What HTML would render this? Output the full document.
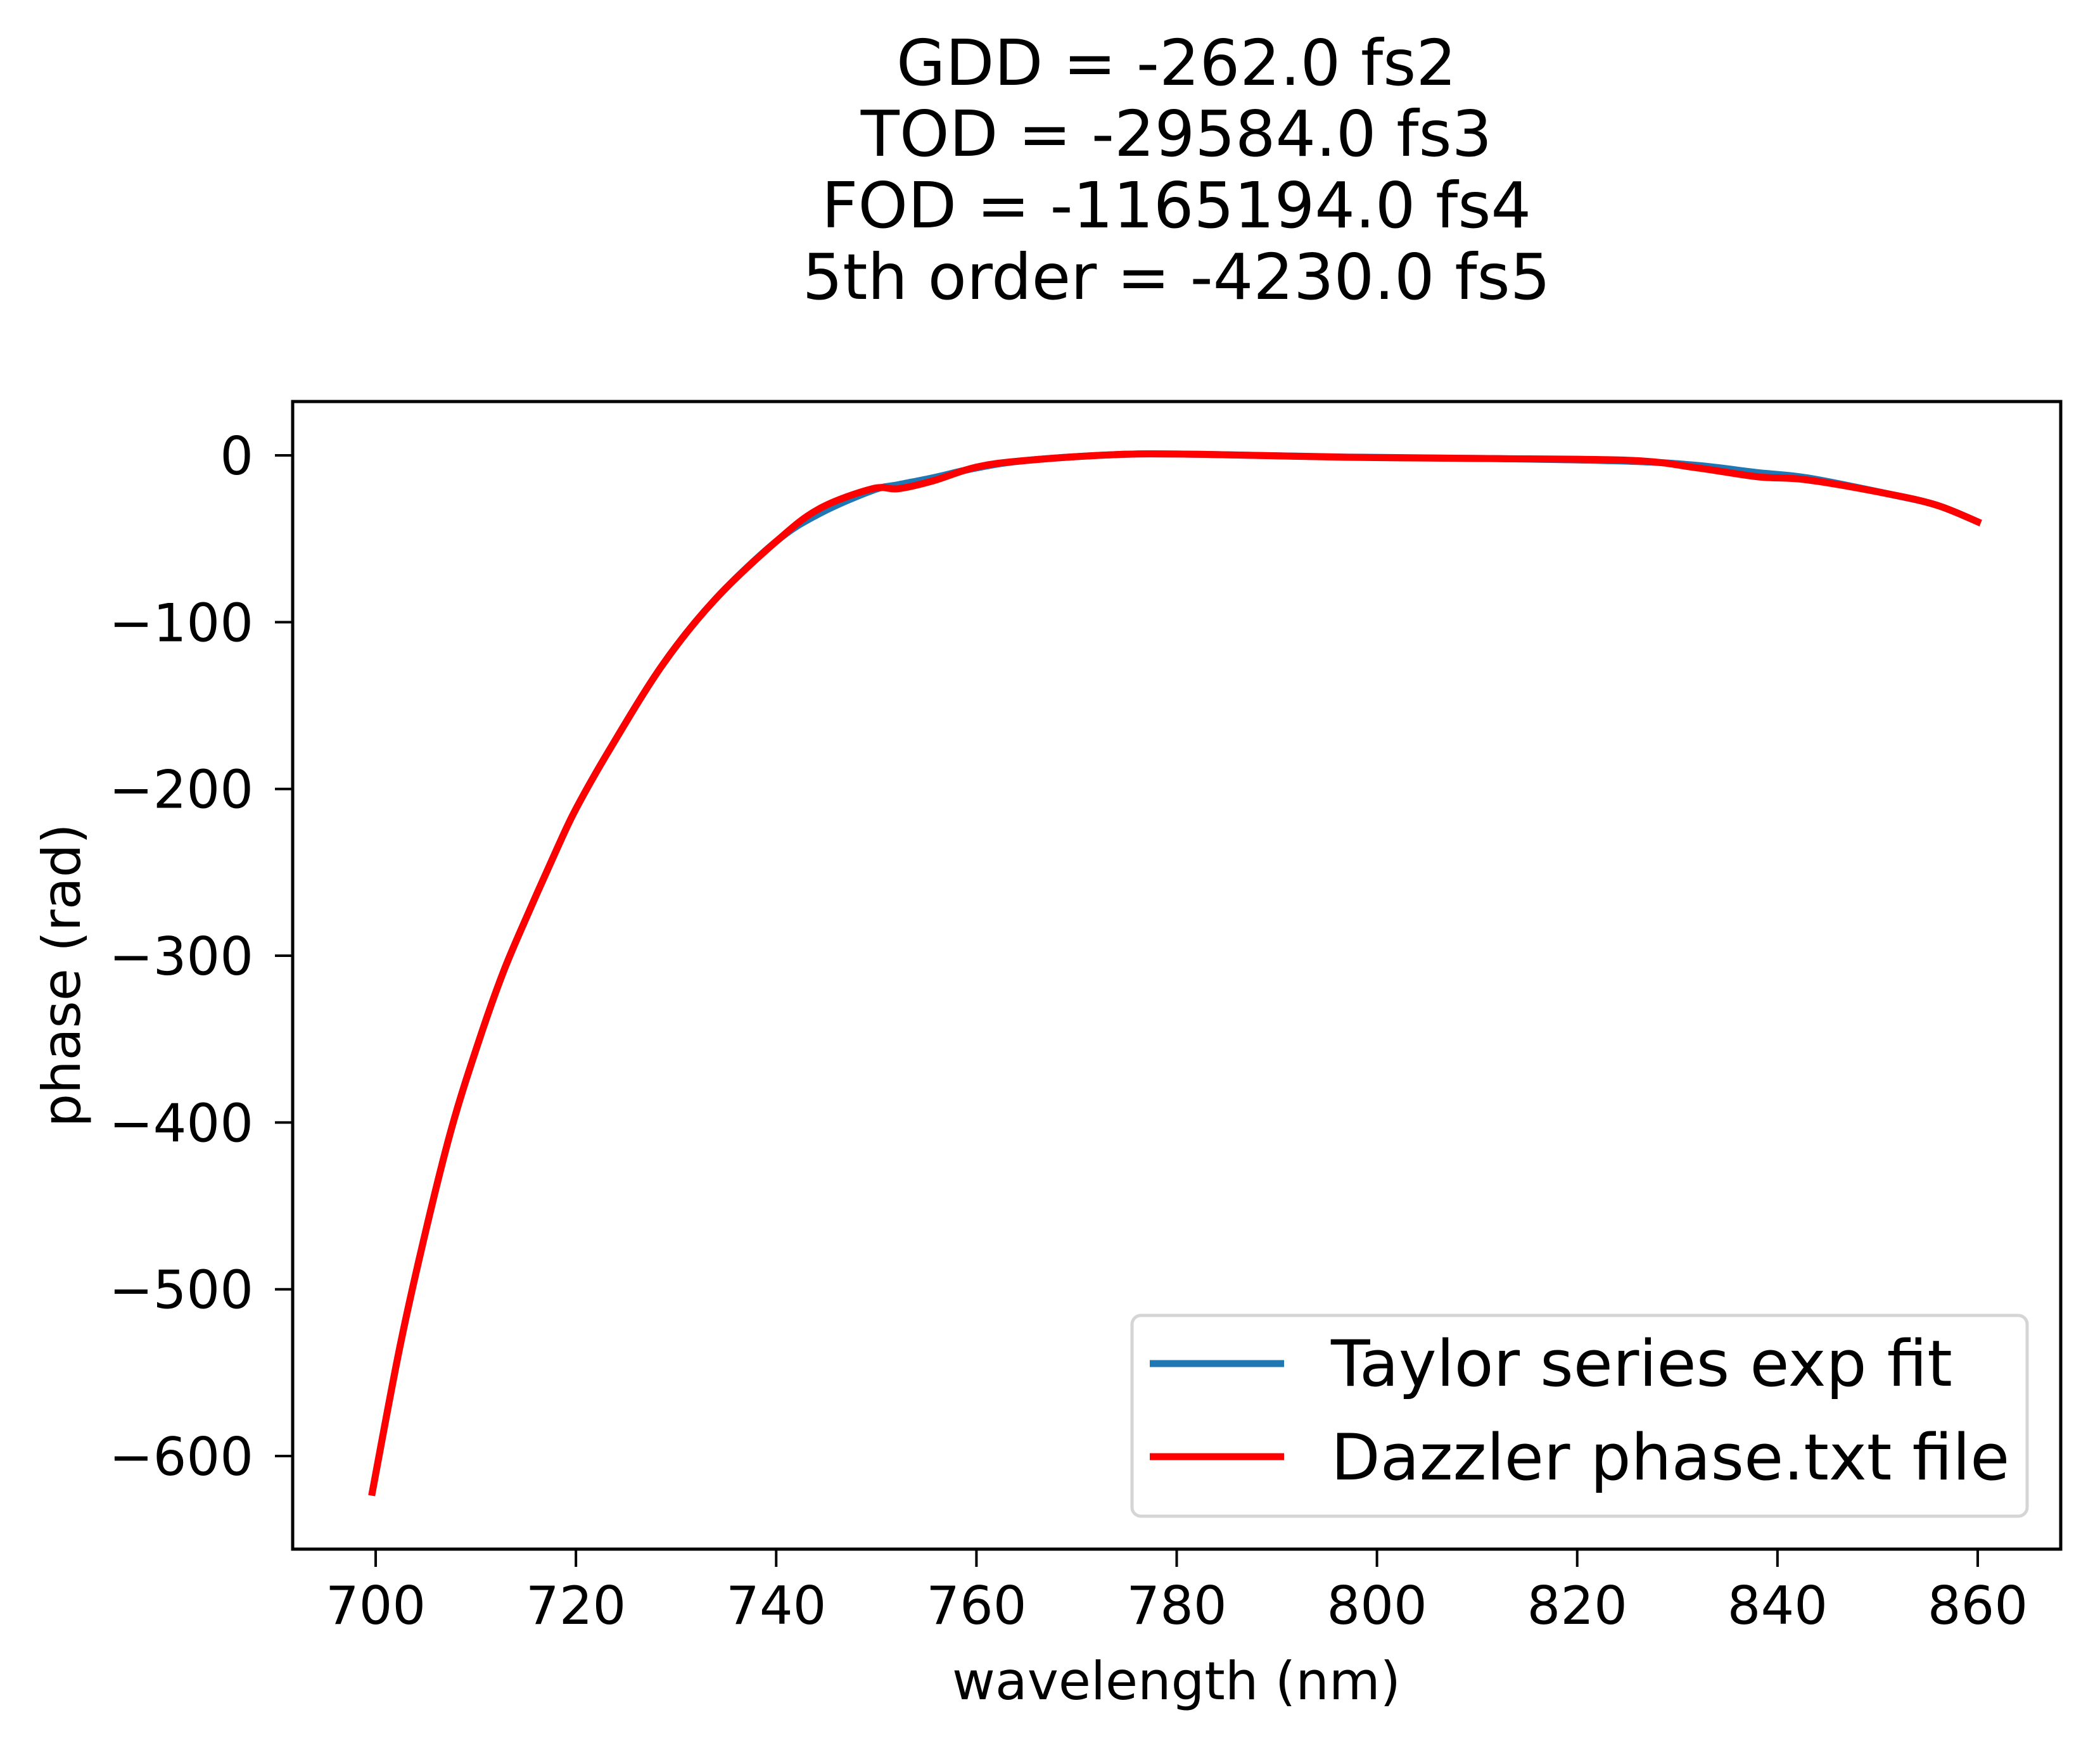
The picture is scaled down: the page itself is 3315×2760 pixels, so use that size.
<!DOCTYPE html>
<html><head><meta charset="utf-8"><style>
html,body{margin:0;padding:0;background:#fff}
svg{display:block;font-family:"DejaVu Sans","Liberation Sans",sans-serif}
</style></head><body>
<svg id="chart" width="3315" height="2760" viewBox="0 0 3315 2760" xmlns="http://www.w3.org/2000/svg">
<rect width="3315" height="2760" fill="#fff"/>
<g font-size="100" text-anchor="middle" fill="#000">
<text x="1857" y="134">GDD = -262.0 fs2</text>
<text x="1857" y="246">TOD = -29584.0 fs3</text>
<text x="1857" y="359">FOD = -1165194.0 fs4</text>
<text x="1857" y="472"> 5th order = -4230.0 fs5</text>
</g>
<g id="plot"></g>
<g id="axes"></g>
<text x="1857" y="2683" font-size="83" text-anchor="middle">wavelength (nm)</text>
<text transform="translate(126,1540) rotate(-90)" font-size="83" text-anchor="middle">phase (rad)</text>
<g>
<rect x="1787" y="2077" width="1413" height="317" rx="14" fill="#fff" stroke="#d5d5d5" stroke-width="5"/>
<line x1="1815" y1="2153" x2="2027" y2="2153" stroke="#1f77b4" stroke-width="11"/>
<text x="2101" y="2188" font-size="101">Taylor series exp fit</text>
<line x1="1815" y1="2300" x2="2027" y2="2300" stroke="#ff0000" stroke-width="11"/>
<text x="2101" y="2336" font-size="101">Dazzler phase.txt file</text>
</g>
</svg>
<script>
const xTicks = [700,720,740,760,780,800,820,840,860];
const yTicks = [0,-100,-200,-300,-400,-500,-600];
const yTickLabels = ["0","\u2212100","\u2212200","\u2212300","\u2212400","\u2212500","\u2212600"];
const wl = [699.6,702.4,705,707.6,710.2,712.8,715.5,718.1,720,723.3,728.6,733.8,740,744.3,749.6,752.2,755.6,760,765,774,782,797,812,825.5,832,838,843,851,856,860.3];
const taylor = [-623.7,-535,-465,-403,-353,-309,-271,-236,-212,-177,-126,-87,-51.6,-35,-21,-17.6,-13.5,-7.5,-3,0.5,0.7,-1,-1.9,-3.6,-6,-10.3,-13.5,-23,-30,-40.6];
const dazzler = [-623.7,-535,-465,-403,-353,-309,-271,-236,-212,-177,-126,-87,-51.6,-32,-20,-20,-15.4,-7,-3,0.5,0.7,-1.1,-1.9,-3,-7.5,-12.8,-14.7,-23,-30,-40.6];

const L=462,R=3253,T=634,B=2446;
const xMin=691.71,xMax=868.29,yMin=-655.8,yMax=32.3;
function sx(v){return L+(v-xMin)/(xMax-xMin)*(R-L);}
function sy(v){return B-(v-yMin)/(yMax-yMin)*(B-T);}
const NS="http://www.w3.org/2000/svg";
function pathFor(xs,ys){
  const p=xs.map((x,i)=>[sx(x),sy(ys[i])]);
  let d="M"+p[0][0].toFixed(1)+","+p[0][1].toFixed(1);
  for(let i=0;i<p.length-1;i++){
    const p0=p[Math.max(i-1,0)],p1=p[i],p2=p[i+1],p3=p[Math.min(i+2,p.length-1)];
    const c1x=p1[0]+(p2[0]-p0[0])/6,c1y=p1[1]+(p2[1]-p0[1])/6;
    const c2x=p2[0]-(p3[0]-p1[0])/6,c2y=p2[1]-(p3[1]-p1[1])/6;
    d+=" C"+c1x.toFixed(1)+","+c1y.toFixed(1)+" "+c2x.toFixed(1)+","+c2y.toFixed(1)+" "+p2[0].toFixed(1)+","+p2[1].toFixed(1);
  }
  return d;
}
const plot=document.getElementById('plot');
const pb=document.createElementNS(NS,'path');
pb.setAttribute('d',pathFor(wl,taylor));
pb.setAttribute('fill','none');pb.setAttribute('stroke','#1f77b4');pb.setAttribute('stroke-width','11');


plot.appendChild(pb);
const pr=document.createElementNS(NS,'path');
pr.setAttribute('d',pathFor(wl,dazzler));
pr.setAttribute('fill','none');pr.setAttribute('stroke','#ff0000');pr.setAttribute('stroke-width','11');


plot.appendChild(pr);

const axes=document.getElementById('axes');
const frame=document.createElementNS(NS,'rect');
frame.setAttribute('x',L);frame.setAttribute('y',T);frame.setAttribute('width',R-L);frame.setAttribute('height',B-T);
frame.setAttribute('fill','none');frame.setAttribute('stroke','#000');frame.setAttribute('stroke-width','5');


axes.appendChild(frame);
xTicks.forEach(v=>{
  const x=sx(v);
  const t=document.createElementNS(NS,'line');
  t.setAttribute('x1',x);t.setAttribute('x2',x);t.setAttribute('y1',B);t.setAttribute('y2',B+28);
  t.setAttribute('stroke','#000');t.setAttribute('stroke-width','4');
  
  
  axes.appendChild(t);
  const tx=document.createElementNS(NS,'text');
  tx.setAttribute('x',x);tx.setAttribute('y',2564);tx.setAttribute('font-size','83');tx.setAttribute('text-anchor','middle');
  tx.textContent=String(v);
  
  
  axes.appendChild(tx);
});
yTicks.forEach((v,i)=>{
  const y=sy(v);
  const t=document.createElementNS(NS,'line');
  t.setAttribute('x1',L-28);t.setAttribute('x2',L);t.setAttribute('y1',y);t.setAttribute('y2',y);
  t.setAttribute('stroke','#000');t.setAttribute('stroke-width','4');
  
  
  axes.appendChild(t);
  const tx=document.createElementNS(NS,'text');
  tx.setAttribute('x',400);tx.setAttribute('y',y+30);tx.setAttribute('font-size','83');tx.setAttribute('text-anchor','end');
  tx.textContent=yTickLabels[i];
  
  
  axes.appendChild(tx);
});
</script>
</body></html>
